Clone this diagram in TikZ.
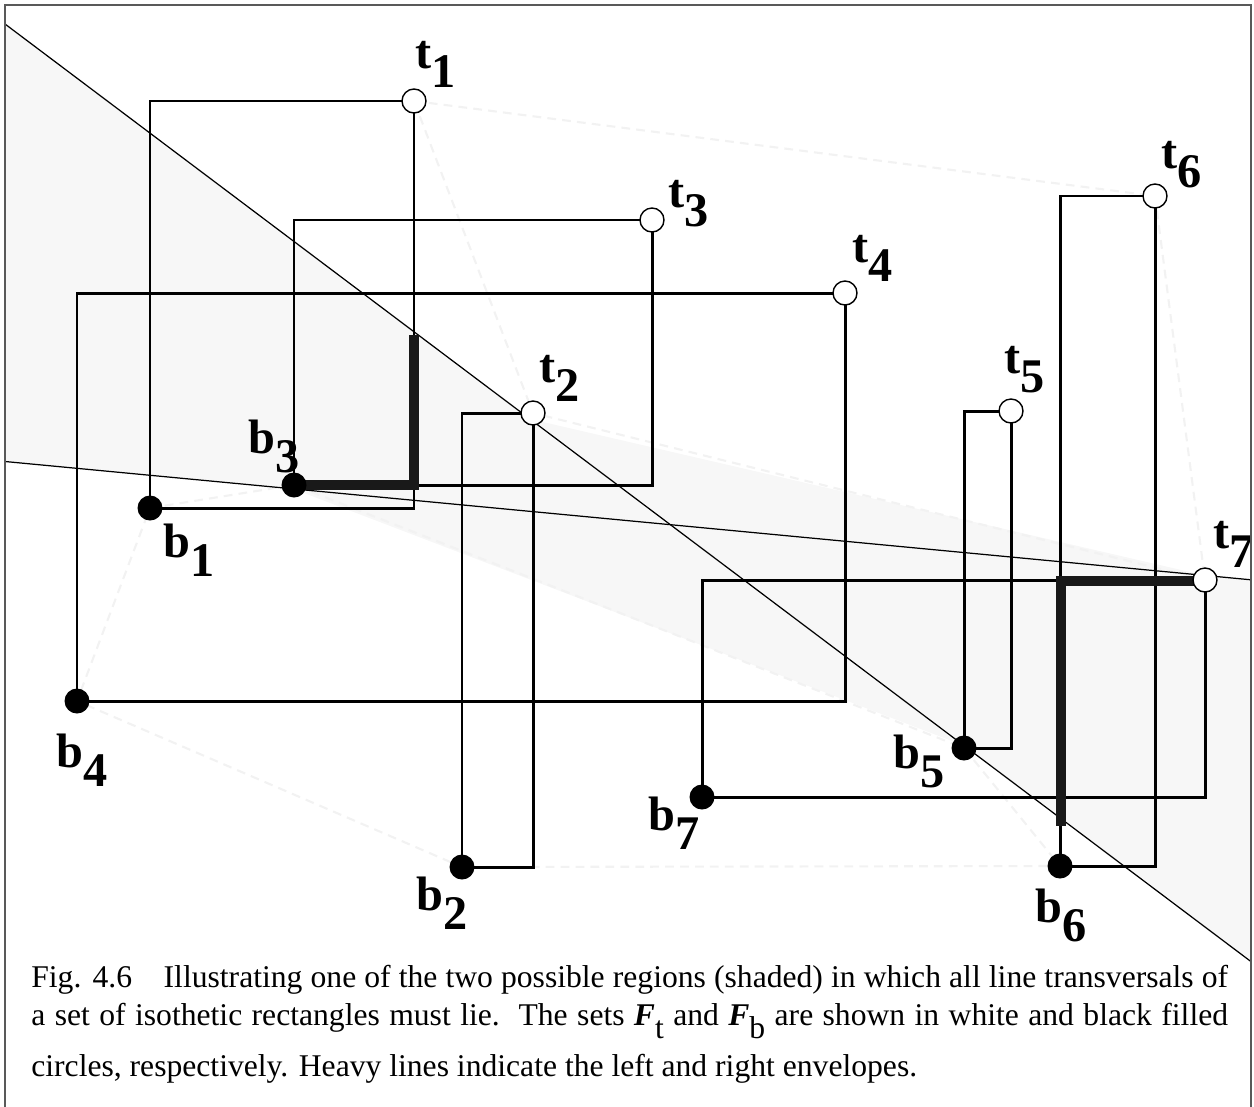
\documentclass[tikz,border=0pt]{standalone}
\usepackage{fontspec}
\setmainfont{Liberation Serif}
\begin{document}
\begin{tikzpicture}[x=0.02cm, y=-0.02cm,
    frm/.style={draw=black!65, line width=1.1pt},
    region/.style={fill=black!3},
    hull/.style={draw=black!5, line width=1.2pt, dash pattern=on 5pt off 3.5pt},
    trans/.style={draw, line width=0.7pt},
    rect/.style={draw, line width=1.7pt},
    env/.style={draw=black!90, line width=5.7pt},
    tdot/.style={circle, draw, fill=white, line width=0.8pt, minimum size=0.48cm, inner sep=0pt},
    bdot/.style={circle, fill=black, minimum size=0.5cm, inner sep=0pt},
    lab/.style={font=\fontsize{27.5}{27.5}\selectfont\bfseries, anchor=base west, inner sep=0pt},
    captxt/.style={font=\fontsize{18}{21.5}\selectfont, align=left, anchor=north west, inner sep=0pt}]
  \useasboundingbox (0,0) rectangle (1254,1106);
  \foreach \n/\bx/\by/\tx/\ty in {1/150/508/414/101, 2/462/867/533/413, 3/294/485/652/220,
      4/77/701/845/293, 5/964/748/1011/411, 6/1060/866/1155/196, 7/702/797/1205/580} {
    \coordinate (b\n) at (\bx,\by);
    \coordinate (t\n) at (\tx,\ty);
  }
  \coordinate (a0) at (5,24);
  \coordinate (a1) at (1251,961.6);
  \coordinate (c0) at (5,461.5);
  \coordinate (c1) at (1251,579.8);
  \fill[region] (a0) -- (530,419) -- (1205,575.5) -- (c1) -- (a1) -- (964,745.6) -- (293,488.8) -- (c0) -- cycle;
  \draw[hull] (t1) -- (t6) -- (t7) -- (t2) -- cycle;
  \draw[hull] (b1) -- (b3) -- (b5) -- (b6) -- (b2) -- (b4) -- cycle;
  \draw[trans] (a0) -- (a1);
  \draw[trans] (c0) -- (c1);
  \foreach \n in {1,...,7}
    \draw[rect] (b\n) rectangle (t\n);
  \draw[env] (b3) -| (414,335);
  \draw[env] (1195,580.5) -| (1060.5,826);
  \foreach \n in {1,...,7} {
    \node[tdot] (ct\n) at (t\n) {};
    \node[bdot] (cb\n) at (b\n) {};
  }
  \foreach \s/\n/\x/\y in {t/1/415/68, t/2/539/382, t/3/668/207, t/4/852/262, t/5/1004/373,
      t/6/1161/168, t/7/1213/548, b/1/163/557, b/2/416/910, b/3/248/453, b/4/56/767,
      b/5/893/768, b/6/1035/922, b/7/648/830}
    \node[lab] (l\s\n) at (\x,\y) {\s\raisebox{-11pt}{\n}};
  \node[captxt] (cap) at (31,965) {%
    \makebox[23.94cm][s]{Fig. 4.6\quad Illustrating one of the two possible regions (shaded) in which all line transversals of}\\
    \makebox[23.94cm][s]{a set of isothetic rectangles must lie.\ \ The sets \textbf{\textit{F}}\raisebox{-0.4em}{t} and \textbf{\textit{F}}\raisebox{-0.4em}{b} are shown in white and black filled}\\[7.5pt]
    circles, respectively. Heavy lines indicate the left and right envelopes.};
  \draw[frm] (5,1110) -- (5,5) -- (1251,5) -- (1251,1110);
\end{tikzpicture}
\end{document}
